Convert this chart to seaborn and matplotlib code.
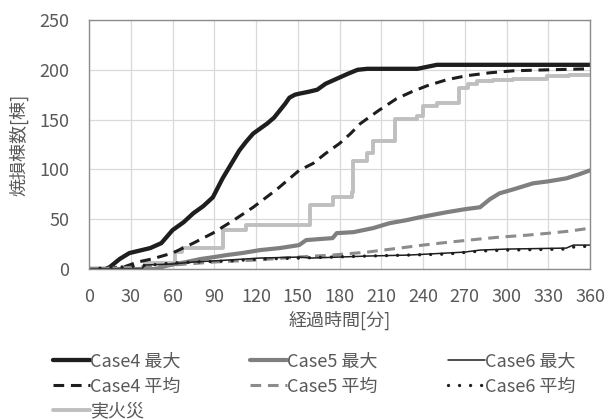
import numpy as np
import pandas as pd
import seaborn as sns
import matplotlib.pyplot as plt

# elapsed time [min] / burnt buildings
c4_max_t = [0, 12, 15, 22, 29, 35, 44, 52, 60, 68, 75, 82, 89, 96, 102, 108, 113, 118, 123, 128,
            133, 137, 141, 144, 148, 151, 158, 164, 170, 178, 186, 193, 200, 236, 243, 250, 360]
c4_max_y = [0, 0, 2, 10, 16, 18, 21, 26, 39, 47, 56, 63, 72, 91, 105, 119, 128, 136, 141, 146,
            152, 159, 166, 172, 175, 176, 178, 180, 186, 191, 196, 200, 201, 201, 203, 205, 205]

c4_avg_t = [0, 25, 35, 45, 60, 75, 89, 104, 118, 135, 151, 161, 170, 180, 188, 195, 208, 221,
            232, 243, 257, 271, 288, 305, 330, 360]
c4_avg_y = [0, 2, 7, 10, 16, 26, 36, 49, 62, 80, 99, 106, 116, 126, 136, 146, 159, 171,
            178, 184, 190, 194, 197, 199, 200, 201]

c5_max_t = [0, 48, 55, 62, 70, 80, 90, 99, 110, 123, 137, 151, 156, 165, 175, 178, 190, 204,
            216, 228, 238, 257, 270, 281, 288, 295, 305, 319, 330, 343, 352, 360]
c5_max_y = [0, 0, 3, 5, 7, 10, 12, 14, 16, 19, 21, 24, 29, 30, 31, 36, 37, 41,
            46, 49, 52, 57, 60, 62, 70, 76, 80, 86, 88, 91, 95, 99]

c5_avg_t = [0, 38, 50, 70, 90, 120, 150, 175, 200, 223, 240, 259, 280, 295, 315, 331, 345, 360]
c5_avg_y = [0, 2, 3, 5, 7, 9, 12, 14, 17, 21, 24, 27, 30, 32, 34, 36, 38, 41]

c6_max_t = [0, 38, 40, 60, 75, 100, 123, 151, 160, 200, 230, 257, 270, 281, 300, 343, 348, 360]
c6_max_y = [0, 0, 4, 5, 7, 9, 11, 12, 11, 13, 14, 16, 17, 19, 20, 21, 24, 24]

c6_avg_t = [0, 35, 45, 60, 75, 100, 123, 151, 175, 200, 230, 257, 281, 300, 343, 348, 360]
c6_avg_y = [0, 3, 4, 6, 7, 8, 10, 11, 12, 13, 14, 15, 18, 19, 20, 22, 23]

fire_t = [0, 40, 62, 67, 96, 113, 159, 175, 189, 190, 200, 204, 220, 236, 240, 250, 266, 272,
          279, 290, 305, 329, 345, 360]
fire_y = [0, 6, 17, 21, 39, 44, 64, 72, 77, 108, 116, 129, 151, 154, 164, 167, 182, 186,
          189, 190, 191, 194, 195, 195]

x_ticks = list(range(0, 361, 30))
y_ticks = list(range(0, 251, 50))

sns.set_style('white')
plt.rcParams['font.family'] = ['Noto Sans CJK JP', 'DejaVu Sans']
txt = '#595959'
fs = 13

fig = plt.figure(figsize=(6.08, 4.19), dpi=100)
ax = fig.add_axes([89/608, 1-269/419, (590-89)/608, (269-20)/419])

series = [
    # t, y, label, style
    (fire_t, fire_y, '実火災', dict(color='#bfbfbf', lw=2.8, drawstyle='steps-post')),
    (c4_max_t, c4_max_y, 'Case4 最大', dict(color='#1e1e1e', lw=3.1)),
    (c4_avg_t, c4_avg_y, 'Case4 平均', dict(color='#1e1e1e', lw=2.2, linestyle=(0, (3.5, 2.2)))),
    (c5_max_t, c5_max_y, 'Case5 最大', dict(color='#7f7f7f', lw=3.0)),
    (c5_avg_t, c5_avg_y, 'Case5 平均', dict(color='#8c8c8c', lw=2.2, linestyle=(0, (3.5, 2.2)))),
    (c6_max_t, c6_max_y, 'Case6 最大', dict(color='#1e1e1e', lw=1.1)),
    (c6_avg_t, c6_avg_y, 'Case6 平均', dict(color='#1e1e1e', lw=2.4, linestyle=(0, (0.01, 3.3)),
                                          dash_capstyle='round')),
]

handles = {}
for t, y, label, style in series:
    sns.lineplot(x=t, y=y, ax=ax, label=label, **style)
    handles[label] = ax.lines[-1]
if ax.get_legend() is not None:
    ax.get_legend().remove()

ax.set_xlim(0, 360)
ax.set_ylim(0, 250)
ax.set_xticks(x_ticks)
ax.set_yticks(y_ticks)
ax.grid(True, color='#d9d9d9', lw=0.9)
ax.set_axisbelow(True)
for s in ax.spines.values():
    s.set_color('#8c8c8c')
    s.set_linewidth(1.0)
ax.tick_params(axis='both', length=0, labelsize=fs, labelcolor=txt)
ax.tick_params(axis='x', pad=14)
ax.tick_params(axis='y', pad=14)
ax.set_xlabel('経過時間[分]', fontsize=fs, color=txt, labelpad=3)
ax.set_ylabel('焼損棟数[棟]', fontsize=fs, color=txt, labelpad=8)

order = ['Case4 最大', 'Case4 平均', '実火災', 'Case5 最大', 'Case5 平均', 'Case6 最大', 'Case6 平均']
leg = fig.legend([handles[k] for k in order], order, ncol=3, frameon=False,
                 loc='upper left', bbox_to_anchor=(40/608, 1-340/419),
                 fontsize=fs, handlelength=2.05, handletextpad=0.0,
                 columnspacing=3.9, labelspacing=0.38, borderpad=0.2)
for t in leg.get_texts():
    t.set_color(txt)

fig.savefig('out.png', dpi=100)
